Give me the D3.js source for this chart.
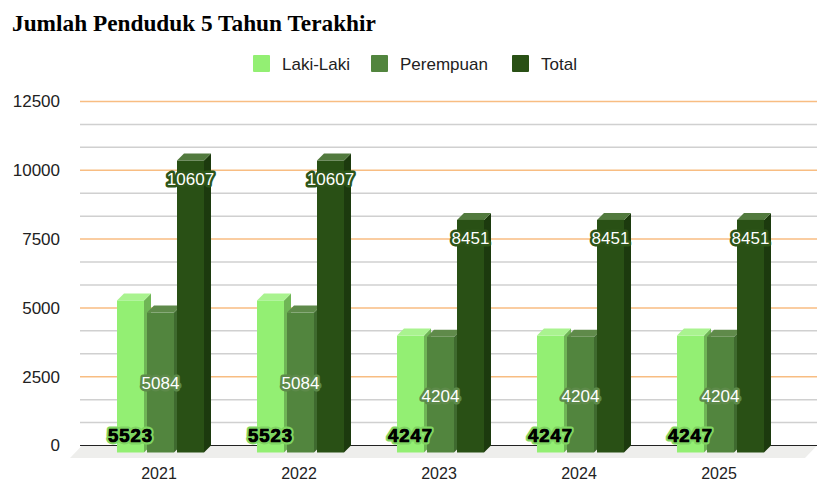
<!DOCTYPE html>
<html lang="en">
<head>
    <meta charset="UTF-8">
    <title>Jumlah Penduduk 5 Tahun Terakhir</title>
    <style>
        html, body { margin: 0; padding: 0; background: #fff; }
        svg { display: block; }
        text { font-family: "Liberation Sans", sans-serif; }
    </style>
</head>
<body>
    <svg id="main-svg" width="820" height="500"></svg>

    <script src="https://cdn.jsdelivr.net/npm/d3@7"></script>
    <script>
        const years = ['2021', '2022', '2023', '2024', '2025'];
        const seriesNames = ['Laki-Laki', 'Perempuan', 'Total'];
        const lakiLaki = [5523, 5523, 4247, 4247, 4247];
        const perempuan = [5084, 5084, 4204, 4204, 4204];
        const total = [10607, 10607, 8451, 8451, 8451];
        const yTicks = [0, 2500, 5000, 7500, 10000, 12500];
        const title = 'Jumlah Penduduk 5 Tahun Terakhir';

        const seriesValues = [lakiLaki, perempuan, total];
        const front = ['#93ef73', '#52853e', '#295015'];
        const topFace = ['#a9f38f', '#5f8a4a', '#527a3e'];
        const sideFace = ['#6fb556', '#3f6a2f', '#1c3a0e'];
        const halo = ['#7fd562', '#5d8a4a', '#2d5519'];
        const depth = 7;

        const svg = d3.select('#main-svg');

        const x = d3.scaleBand().domain(years).range([89, 789]);
        const inner = d3.scaleBand().domain(d3.range(3)).range([28, 115]).paddingInner(0.1);
        const y = d3.scaleLinear().domain([0, 12500]).range([445.5, 101.5]);

        svg.append('text')
            .attr('x', 12).attr('y', 31)
            .style('font-family', '"Liberation Serif", serif')
            .style('font-weight', 'bold')
            .style('font-size', '23.3px')
            .text(title);

        // legend
        const legendX = [253, 371, 512];
        const legend = svg.selectAll('.legend').data(seriesNames).enter().append('g')
            .attr('transform', (d, i) => 'translate(' + legendX[i] + ',55)');
        legend.append('rect')
            .attr('width', 17).attr('height', 17).attr('rx', 1)
            .attr('fill', (d, i) => front[i]);
        legend.append('text')
            .attr('x', 29).attr('y', 15)
            .style('font-size', '17px')
            .attr('fill', '#222')
            .text(d => d);

        // floor
        svg.append('polygon')
            .attr('points', [[70, 458], [82, 445.5], [817, 445.5], [805, 458]].join(' '))
            .attr('fill', '#eeeeec');

        // grid, major lines orange, two grey between each
        const minorTicks = [];
        for (let i = 0; i < yTicks.length - 1; i++) {
            const step = (yTicks[i + 1] - yTicks[i]) / 3;
            minorTicks.push(yTicks[i] + step, yTicks[i] + 2 * step);
        }
        svg.append('g').selectAll('line').data(minorTicks).enter().append('line')
            .attr('x1', 80).attr('x2', 817)
            .attr('y1', d => y(d)).attr('y2', d => y(d))
            .attr('stroke', '#d0d0d0').attr('stroke-width', 1.5);
        svg.append('g').selectAll('line').data(yTicks.slice(1)).enter().append('line')
            .attr('x1', 80).attr('x2', 817)
            .attr('y1', d => y(d)).attr('y2', d => y(d))
            .attr('stroke', '#f8bd82').attr('stroke-width', 1.5);
        svg.append('line')
            .attr('x1', 80).attr('x2', 817)
            .attr('y1', y(0)).attr('y2', y(0))
            .attr('stroke', '#222').attr('stroke-width', 1.2);

        // axes
        const yAxis = svg.append('g')
            .attr('transform', 'translate(60,0)')
            .call(d3.axisLeft(y).tickValues(yTicks).tickSize(0).tickPadding(0).tickFormat(d3.format('d')));
        yAxis.select('.domain').remove();
        yAxis.selectAll('text').style('font-size', '17px').attr('fill', '#222')
            .style('font-family', '"Liberation Sans", sans-serif');

        const xAxis = svg.append('g')
            .attr('transform', 'translate(0,468)')
            .call(d3.axisBottom(x).tickSize(0).tickPadding(0));
        xAxis.select('.domain').remove();
        xAxis.selectAll('text').style('font-size', '16px').attr('fill', '#222')
            .style('font-family', '"Liberation Sans", sans-serif');

        // 3d bars, front face is shifted down-left of the value position
        const barData = [];
        years.forEach((yr, c) => {
            seriesValues.forEach((vals, s) => {
                barData.push({ year: yr, s: s, value: vals[c] });
            });
        });
        const barX = d => x(d.year) + inner(d.s);
        const bw = inner.bandwidth();

        const bars = svg.append('g').selectAll('g').data(barData).enter().append('g');
        bars.append('polygon')
            .attr('fill', d => sideFace[d.s])
            .attr('points', d => {
                const l = barX(d) + bw, t = y(d.value) + depth, b = y(0) + depth;
                return [[l, t], [l + depth, t - depth], [l + depth, b - depth], [l, b]].join(' ');
            });
        bars.append('polygon')
            .attr('fill', d => topFace[d.s])
            .attr('points', d => {
                const l = barX(d), t = y(d.value) + depth;
                return [[l, t], [l + depth, t - depth], [l + bw + depth, t - depth], [l + bw, t]].join(' ');
            });
        bars.append('rect')
            .attr('x', barX)
            .attr('y', d => y(d.value) + depth)
            .attr('width', bw)
            .attr('height', d => y(0) - y(d.value))
            .attr('fill', d => front[d.s]);

        // labels: inside base, centre, inside end
        const labelY = d => {
            if (d.s === 0) return y(0) + depth - 17;
            if (d.s === 1) return y(d.value / 2) + depth + 1;
            return y(d.value) + depth + 18;
        };
        const labels = svg.append('g').selectAll('text').data(barData).enter().append('text')
            .attr('x', d => barX(d) + bw / 2)
            .attr('y', labelY)
            .attr('dy', '0.35em')
            .attr('text-anchor', 'middle')
            .style('font-size', d => d.s === 0 ? '18.5px' : '17px')
            .style('font-weight', d => d.s === 0 ? 'bold' : 'normal')
            .style('letter-spacing', d => d.s === 0 ? '1px' : '0')
            .style('paint-order', 'stroke')
            .attr('stroke', d => halo[d.s])
            .attr('stroke-width', 5)
            .attr('stroke-linejoin', 'round')
            .attr('fill', d => d.s === 0 ? '#000' : '#fff')
            .text(d => d.value);

        // the bold labels are heavier than plain bold, go over them once more
        svg.append('g').selectAll('text').data(barData.filter(d => d.s === 0)).enter().append('text')
            .attr('x', d => barX(d) + bw / 2)
            .attr('y', labelY)
            .attr('dy', '0.35em')
            .attr('text-anchor', 'middle')
            .style('font-size', '18.5px')
            .style('font-weight', 'bold')
            .style('letter-spacing', '1px')
            .attr('stroke', '#000')
            .attr('stroke-width', 0.7)
            .attr('fill', '#000')
            .text(d => d.value);
    </script>
</body>
</html>
